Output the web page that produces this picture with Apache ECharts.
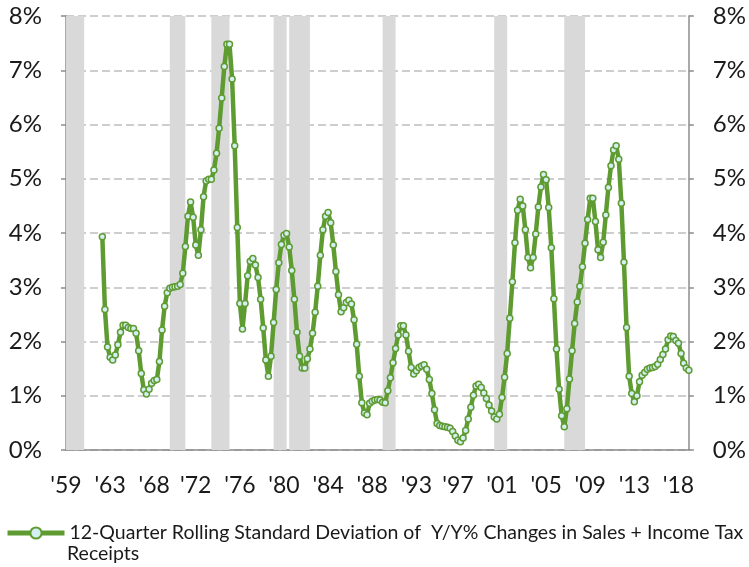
<!DOCTYPE html>
<html>
<head>
<meta charset="utf-8">
<script src="https://cdn.jsdelivr.net/npm/echarts@6/dist/echarts.min.js"></script>
<style>
  html, body { margin: 0; padding: 0; background: #fff; }
  #chart { width: 749px; height: 567px; }
</style>
</head>
<body>
<div id="chart"></div>
<script>
// quarterly categories: 1959Q4 .. 2019Q4
const firstYear = 1959, firstQuarter = 4, quarterCount = 241;
const quarters = [];
for (let i = 0; i < quarterCount; i++) {
  const q = firstQuarter - 1 + i;
  quarters.push((firstYear + Math.floor(q / 4)) + 'Q' + (q % 4 + 1));
}

// x-axis labels (as printed) and the categories they sit under
const tickLabels = ["'59", "'63", "'68", "'72", "'76", "'80", "'84", "'88", "'93", "'97", "'01", "'05", "'09", "'13", "'18"];
const tickQuarters = ['1959Q4', '1964Q1', '1968Q2', '1972Q2', '1976Q3', '1980Q4', '1985Q1', '1989Q2', '1993Q3', '1997Q3', '2001Q4', '2006Q1', '2010Q2', '2014Q3', '2018Q4'];

// series starts at 1963Q2
const seriesStart = '1963Q2';
const stdDev = [
  3.93, 2.59, 1.90, 1.71, 1.66, 1.75, 1.94, 2.17, 2.30, 2.30,
  2.26, 2.24, 2.24, 2.15, 1.83, 1.41, 1.11, 1.03, 1.12, 1.23,
  1.28, 1.30, 1.63, 2.21, 2.65, 2.90, 2.98, 3.00, 3.01, 3.02,
  3.05, 3.26, 3.75, 4.31, 4.57, 4.29, 3.78, 3.59, 4.06, 4.67,
  4.96, 4.99, 4.99, 5.16, 5.47, 5.93, 6.49, 7.07, 7.48, 7.48,
  6.84, 5.61, 4.10, 2.70, 2.23, 2.70, 3.21, 3.48, 3.53, 3.41,
  3.18, 2.78, 2.25, 1.66, 1.36, 1.73, 2.35, 2.96, 3.45, 3.79,
  3.96, 3.99, 3.74, 3.31, 2.78, 2.17, 1.73, 1.51, 1.51, 1.68,
  1.86, 2.15, 2.54, 3.02, 3.59, 4.06, 4.31, 4.38, 4.19, 3.78,
  3.29, 2.86, 2.55, 2.62, 2.72, 2.76, 2.69, 2.40, 1.95, 1.36,
  0.87, 0.68, 0.65, 0.86, 0.90, 0.92, 0.93, 0.92, 0.88, 0.87,
  1.09, 1.33, 1.61, 1.87, 2.12, 2.29, 2.29, 2.12, 1.82, 1.52,
  1.40, 1.46, 1.52, 1.55, 1.57, 1.49, 1.30, 1.04, 0.74, 0.49,
  0.45, 0.44, 0.43, 0.42, 0.40, 0.34, 0.26, 0.18, 0.15, 0.22,
  0.36, 0.57, 0.79, 1.01, 1.18, 1.21, 1.15, 1.05, 0.95, 0.83,
  0.72, 0.61, 0.57, 0.66, 0.97, 1.34, 1.78, 2.43, 3.10, 3.82,
  4.42, 4.62, 4.50, 4.06, 3.55, 3.36, 3.55, 3.98, 4.48, 4.85,
  5.08, 4.98, 4.47, 3.73, 2.79, 1.86, 1.12, 0.63, 0.43, 0.76,
  1.31, 1.83, 2.33, 2.73, 3.02, 3.38, 3.81, 4.25, 4.64, 4.64,
  4.21, 3.69, 3.55, 3.83, 4.33, 4.84, 5.24, 5.53, 5.61, 5.36,
  4.55, 3.46, 2.26, 1.36, 1.04, 0.89, 1.00, 1.26, 1.38, 1.43,
  1.49, 1.51, 1.52, 1.54, 1.58, 1.67, 1.76, 1.86, 2.03, 2.10,
  2.09, 2.02, 1.97, 1.78, 1.60, 1.51, 1.47
];

// recession shading (start, end quarter)
const recessions = [
  ['1959Q4', '1961Q3'],
  ['1969Q4', '1971Q2'],
  ['1973Q4', '1975Q3'],
  ['1979Q4', '1981Q1'],
  ['1981Q2', '1983Q2'],
  ['1990Q2', '1991Q3'],
  ['2001Q1', '2002Q2'],
  ['2007Q4', '2009Q4']
];

const seriesName = '12-Quarter Rolling Standard Deviation of  Y/Y% Changes in Sales + Income Tax Receipts';
const legendLine1 = '12-Quarter Rolling Standard Deviation of  Y/Y% Changes in Sales + Income Tax';
const legendLine2 = 'Receipts';

const startIdx = quarters.indexOf(seriesStart);
const lineData = quarters.map((q, i) => (i < startIdx ? null : stdDev[i - startIdx]));
const tickIdx = tickQuarters.map(q => quarters.indexOf(q));

const green = '#5e9c32';
const axisGray = '#8c8c8c';
const font = 'Lato';
const legendFontSize = 19.5;

const yAxisBase = {
  type: 'value', min: 0, max: 8, interval: 1,
  axisLine: { show: true, lineStyle: { color: axisGray, width: 1.5 } },
  axisTick: { show: true, length: 5, lineStyle: { color: axisGray, width: 1.5 } },
  axisLabel: { formatter: '{value}%', fontSize: 24, color: '#1a1a1a', fontFamily: font, margin: 24 }
};

const chart = echarts.init(document.getElementById('chart'));
chart.setOption({
  animation: false,
  grid: { left: 66, right: 57, top: 16, bottom: 117, containLabel: false },
  legend: {
    data: [seriesName],
    left: 0, top: 518, padding: 5,
    itemWidth: 57, itemHeight: 14, itemGap: 0,
    formatter: () => legendLine1,
    lineStyle: { width: 5 },
    textStyle: { fontSize: legendFontSize, color: '#1a1a1a', fontFamily: font }
  },
  graphic: [{
    type: 'text', left: 67, top: 544,
    style: { text: legendLine2, fontSize: legendFontSize, fill: '#1a1a1a', fontFamily: font }
  }],
  xAxis: {
    type: 'category', data: quarters, boundaryGap: false,
    axisLine: { lineStyle: { color: axisGray, width: 1.5 } },
    axisTick: { show: false },
    axisLabel: {
      interval: (i) => tickIdx.indexOf(i) >= 0,
      formatter: (v, i) => tickLabels[tickIdx.indexOf(i)],
      fontSize: 23, color: '#1a1a1a', fontFamily: font, margin: 24
    },
    splitLine: { show: false }
  },
  yAxis: [
    Object.assign({}, yAxisBase, {
      position: 'left',
      splitLine: { show: true, lineStyle: { color: '#bfbfbf', width: 1.5, type: [8, 4] } }
    }),
    Object.assign({}, yAxisBase, { position: 'right', splitLine: { show: false } })
  ],
  series: [
    {
      name: 'Recession', type: 'line', data: [], z: 1, silent: true,
      markArea: {
        silent: true,
        itemStyle: { color: '#d9d9d9' },
        data: recessions.map(r => [{ xAxis: r[0] }, { xAxis: r[1] }])
      }
    },
    {
      name: seriesName, type: 'line', data: lineData, z: 3,
      showAllSymbol: true, symbol: 'circle', symbolSize: 6,
      lineStyle: { color: green, width: 4.5 },
      itemStyle: { color: '#d5eef2', borderColor: green, borderWidth: 1.5 }
    }
  ]
});
</script>
</body>
</html>
